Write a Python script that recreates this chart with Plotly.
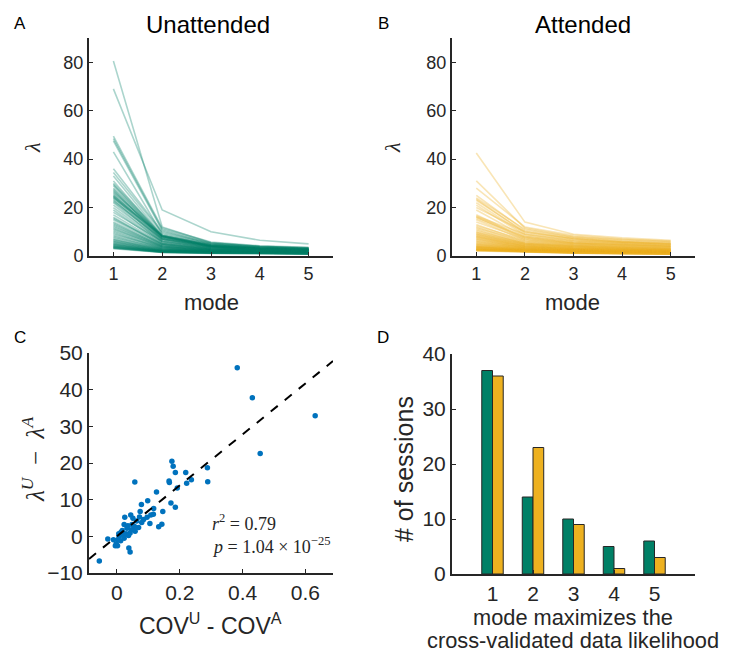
import plotly.graph_objects as go

# ---------------- data ----------------
MODES = [1, 2, 3, 4, 5]

# Panel A: eigenvalues per session (Unattended), one list per mode
U_M1 = [80.5, 69.0, 49.5, 48.5, 47.5, 43.0, 36.0, 34.5, 33.0, 31.0, 30.0, 29.5,
        29.0, 28.0, 27.5, 27.0, 26.5, 26.0, 25.5, 25.0, 24.8, 24.5, 24.2, 24.0,
        23.5, 23.0, 22.5, 22.0, 21.0, 20.0, 19.0, 18.0, 17.0, 16.0, 15.5, 15.0,
        14.0, 13.5, 13.0, 12.5, 12.0, 11.5, 11.0, 10.5, 10.0, 9.5, 9.0, 8.5,
        8.0, 7.5, 7.0, 6.8, 6.5, 6.2, 6.0, 5.8, 5.5, 5.2, 5.0, 4.8,
        4.6, 4.4, 4.2, 4.0, 3.9, 3.8, 3.6, 3.5, 3.4, 3.3, 3.2, 3.0]
U_M2 = [12.0, 19.0, 11.5, 11.0, 10.5, 9.0, 10.0, 9.5, 8.5, 8.0, 8.5, 8.0,
        7.5, 8.0, 7.0, 7.5, 8.5, 8.0, 7.0, 7.5, 8.0, 6.5, 7.0, 8.5,
        6.0, 6.5, 7.0, 5.5, 6.0, 5.5, 5.0, 6.0, 5.0, 4.5, 5.0, 4.8,
        4.5, 4.0, 4.2, 3.8, 4.0, 3.5, 3.8, 3.5, 3.2, 3.0, 3.5, 3.0,
        2.8, 3.0, 2.6, 2.5, 2.8, 2.4, 2.2, 2.5, 2.3, 2.0, 2.2, 2.0,
        1.9, 2.1, 1.8, 2.0, 1.7, 1.8, 1.6, 1.9, 1.5, 1.7, 1.6, 1.5]
U_M3 = [5.5, 10.0, 5.8, 5.5, 5.0, 4.8, 5.2, 5.0, 4.5, 4.2, 4.5, 4.0,
        4.0, 4.2, 3.8, 4.0, 4.5, 4.2, 3.8, 4.0, 4.2, 3.5, 3.8, 4.5,
        3.5, 3.6, 3.8, 3.2, 3.4, 3.2, 3.0, 3.4, 3.0, 2.8, 3.0, 2.9,
        2.8, 2.6, 2.7, 2.5, 2.6, 2.4, 2.5, 2.3, 2.2, 2.1, 2.4, 2.1,
        2.0, 2.1, 1.9, 1.8, 2.0, 1.8, 1.7, 1.8, 1.7, 1.6, 1.7, 1.5,
        1.5, 1.6, 1.4, 1.5, 1.3, 1.4, 1.3, 1.4, 1.2, 1.3, 1.2, 1.1]
U_M4 = [4.0, 6.5, 4.2, 4.0, 3.8, 3.6, 3.8, 3.7, 3.4, 3.2, 3.4, 3.1,
        3.1, 3.2, 3.0, 3.1, 3.4, 3.2, 2.9, 3.0, 3.2, 2.8, 2.9, 3.4,
        2.8, 2.8, 2.9, 2.6, 2.7, 2.6, 2.4, 2.7, 2.4, 2.3, 2.4, 2.3,
        2.3, 2.1, 2.2, 2.0, 2.1, 2.0, 2.0, 1.9, 1.8, 1.8, 2.0, 1.7,
        1.7, 1.7, 1.6, 1.5, 1.6, 1.5, 1.4, 1.5, 1.4, 1.3, 1.4, 1.3,
        1.3, 1.3, 1.2, 1.2, 1.1, 1.2, 1.1, 1.1, 1.0, 1.1, 1.0, 0.9]
U_M5 = [3.4, 5.0, 3.6, 3.4, 3.2, 3.1, 3.2, 3.1, 2.9, 2.8, 2.9, 2.7,
        2.7, 2.7, 2.6, 2.6, 2.9, 2.7, 2.5, 2.6, 2.7, 2.4, 2.5, 2.9,
        2.4, 2.4, 2.5, 2.2, 2.3, 2.2, 2.1, 2.3, 2.1, 2.0, 2.1, 2.0,
        2.0, 1.8, 1.9, 1.8, 1.8, 1.7, 1.7, 1.6, 1.6, 1.5, 1.7, 1.5,
        1.5, 1.5, 1.4, 1.3, 1.4, 1.3, 1.2, 1.3, 1.2, 1.2, 1.2, 1.1,
        1.1, 1.1, 1.0, 1.0, 1.0, 1.0, 0.9, 1.0, 0.9, 0.9, 0.8, 0.8]

# Panel B: eigenvalues per session (Attended)
A_M1 = [42.5, 31.0, 28.0, 25.0, 24.0, 23.5, 23.0, 22.0, 21.0, 20.0, 19.0, 17.0,
        16.5, 16.2, 16.0, 15.5, 15.0, 14.0, 13.0, 12.5, 12.0, 11.5, 11.0, 10.5,
        10.0, 9.8, 9.5, 9.2, 9.0, 8.8, 8.5, 8.2, 8.0, 7.8, 7.5, 7.2,
        7.0, 6.8, 6.5, 6.2, 6.0, 5.8, 5.5, 5.2, 5.0, 4.8, 4.6, 4.4,
        4.2, 4.0, 3.9, 3.8, 3.7, 3.6, 3.5, 3.4, 3.3, 3.2, 3.1, 3.0,
        2.9, 2.8, 2.8, 2.7, 2.6, 2.6, 2.5, 2.5, 2.4, 2.3, 2.2, 2.1]
A_M2 = [14.0, 11.5, 12.0, 10.5, 11.0, 9.5, 10.0, 9.0, 8.5, 10.0, 8.0, 7.5,
        9.0, 7.0, 8.0, 7.5, 6.5, 7.0, 6.0, 6.5, 5.5, 6.0, 5.0, 5.5,
        5.2, 5.0, 4.8, 4.6, 4.5, 4.4, 4.2, 4.0, 4.0, 3.9, 3.8, 3.6,
        3.5, 3.5, 3.4, 3.3, 3.2, 3.1, 3.0, 3.0, 2.9, 2.8, 2.8, 2.7,
        2.6, 2.6, 2.5, 2.5, 2.4, 2.4, 2.3, 2.3, 2.2, 2.2, 2.1, 2.1,
        2.0, 2.0, 1.9, 1.9, 1.9, 1.8, 1.8, 1.8, 1.7, 1.7, 1.6, 1.6]
A_M3 = [9.0, 8.0, 8.5, 7.5, 7.8, 7.0, 7.2, 6.5, 6.2, 7.0, 6.0, 5.5,
        6.5, 5.2, 5.8, 5.5, 5.0, 5.2, 4.6, 4.8, 4.3, 4.5, 4.0, 4.2,
        4.0, 3.8, 3.7, 3.6, 3.5, 3.4, 3.3, 3.2, 3.1, 3.0, 3.0, 2.9,
        2.8, 2.8, 2.7, 2.6, 2.6, 2.5, 2.4, 2.4, 2.3, 2.3, 2.2, 2.2,
        2.1, 2.1, 2.0, 2.0, 1.9, 1.9, 1.8, 1.8, 1.8, 1.7, 1.7, 1.6,
        1.6, 1.6, 1.5, 1.5, 1.5, 1.4, 1.4, 1.4, 1.3, 1.3, 1.2, 1.2]
A_M4 = [7.5, 6.8, 7.0, 6.2, 6.5, 5.8, 6.0, 5.5, 5.2, 5.8, 5.0, 4.6,
        5.4, 4.4, 4.8, 4.6, 4.2, 4.3, 3.9, 4.0, 3.6, 3.8, 3.4, 3.5,
        3.4, 3.2, 3.1, 3.0, 3.0, 2.9, 2.8, 2.7, 2.6, 2.6, 2.5, 2.5,
        2.4, 2.4, 2.3, 2.2, 2.2, 2.1, 2.1, 2.0, 2.0, 1.9, 1.9, 1.8,
        1.8, 1.8, 1.7, 1.7, 1.6, 1.6, 1.5, 1.5, 1.5, 1.4, 1.4, 1.4,
        1.3, 1.3, 1.3, 1.2, 1.2, 1.2, 1.1, 1.1, 1.1, 1.0, 1.0, 1.0]
A_M5 = [6.5, 6.0, 6.2, 5.5, 5.8, 5.0, 5.2, 4.8, 4.5, 5.0, 4.3, 4.0,
        4.7, 3.8, 4.1, 4.0, 3.6, 3.7, 3.3, 3.4, 3.1, 3.2, 2.9, 3.0,
        2.9, 2.7, 2.6, 2.6, 2.5, 2.5, 2.4, 2.3, 2.2, 2.2, 2.1, 2.1,
        2.0, 2.0, 1.9, 1.9, 1.8, 1.8, 1.7, 1.7, 1.6, 1.6, 1.6, 1.5,
        1.5, 1.5, 1.4, 1.4, 1.3, 1.3, 1.3, 1.2, 1.2, 1.2, 1.1, 1.1,
        1.1, 1.0, 1.0, 1.0, 0.9, 0.9, 0.9, 0.8, 0.8, 0.8, 0.7, 0.7]

# Panel C: scatter of COV difference vs lambda difference
COV_DIFF = [0.383, 0.431, 0.631, 0.456, 0.175, 0.179, 0.186, 0.219, 0.288, 0.289,
            0.166, 0.167, 0.237, 0.222, 0.192, 0.057, 0.126, 0.172, 0.186, 0.098,
            0.078, 0.117, 0.146, 0.116, 0.074, 0.096, 0.044, 0.025, 0.105, 0.143,
            0.133, 0.079, 0.063, 0.048, 0.069, 0.023, 0.032, 0.046, 0.056, 0.013,
            0.006, 0.019, 0.029, 0.037, 0.007, 0.003, 0.012, -0.029, -0.005, 0.002,
            0.038, 0.042, -0.056, 0.017, 0.035, 0.085, 0.108, -0.011, -0.002, 0.051,
            0.072, 0.023, 0.011, 0.042, 0.058]
LAMBDA_DIFF = [46.0, 37.8, 32.9, 22.6, 20.5, 19.1, 17.4, 17.4, 18.7, 14.9,
               15.1, 14.7, 15.4, 14.5, 13.2, 14.8, 12.1, 9.1, 7.9, 9.7,
               8.7, 7.6, 6.8, 6.0, 6.8, 5.2, 5.8, 5.2, 3.5, 3.3,
               2.6, 3.8, 4.2, 3.2, 2.4, 3.2, 2.2, 1.8, 2.7, 1.1,
               0.7, 0.7, 0.7, 0.2, 0.0, -0.9, -1.2, -0.7, -2.6, -2.6,
               -3.2, -4.3, -6.7, 1.6, 2.9, 4.6, 5.8, -0.9, -2.0, 4.9,
               5.3, -0.5, 0.3, 0.9, 1.4]
FIT_SLOPE = 69.5
FIT_INTERCEPT = 0.0
R2_TEXT = "<i>r</i><sup>2</sup> = 0.79"
P_TEXT = "<i>p</i> = 1.04 × 10<sup>−25</sup>"

# Panel D: number of sessions for which each mode maximizes CV likelihood
BEST_MODE_U = [37, 14, 10, 5, 6]
BEST_MODE_A = [36, 23, 9, 1, 3]

# ---------------- style ----------------
W, H = 733, 654
GREEN = "#008066"
GREEN_T = "rgba(0,128,102,0.33)"
YELLOW = "#EDB120"
YELLOW_T = "rgba(237,177,32,0.33)"
BLUE = "#0072BD"
INK = "#262626"
SANS = "Liberation Sans, Arial, sans-serif"
SERIF = "Liberation Serif, DejaVu Serif, serif"


def px(x, y):
    return x / W, 1 - y / H


def xd(a, b):
    return [a / W, b / W]


def yd(top, bottom):
    return [1 - bottom / H, 1 - top / H]


fig = go.Figure()

U_MODES = [U_M1, U_M2, U_M3, U_M4, U_M5]
A_MODES = [A_M1, A_M2, A_M3, A_M4, A_M5]

for i in range(len(U_M1)):
    fig.add_trace(go.Scatter(x=MODES, y=[m[i] for m in U_MODES], mode="lines",
                             line=dict(color=GREEN_T, width=1.6),
                             xaxis="x", yaxis="y", showlegend=False, hoverinfo="skip"))
for i in range(len(A_M1)):
    fig.add_trace(go.Scatter(x=MODES, y=[m[i] for m in A_MODES], mode="lines",
                             line=dict(color=YELLOW_T, width=1.6),
                             xaxis="x2", yaxis="y2", showlegend=False, hoverinfo="skip"))

C_XRANGE = [-0.0888, 0.6877]
fig.add_trace(go.Scatter(x=COV_DIFF, y=LAMBDA_DIFF, mode="markers",
                         marker=dict(color=BLUE, size=5.5),
                         xaxis="x3", yaxis="y3", showlegend=False))
fig.add_trace(go.Scatter(x=C_XRANGE,
                         y=[FIT_SLOPE * v + FIT_INTERCEPT for v in C_XRANGE],
                         mode="lines", line=dict(color="black", width=2, dash="dash"),
                         xaxis="x3", yaxis="y3", showlegend=False))

fig.add_trace(go.Bar(x=MODES, y=BEST_MODE_U, marker=dict(color=GREEN, line=dict(color=INK, width=1)),
                     xaxis="x4", yaxis="y4", showlegend=False))
fig.add_trace(go.Bar(x=MODES, y=BEST_MODE_A, marker=dict(color=YELLOW, line=dict(color=INK, width=1)),
                     xaxis="x4", yaxis="y4", showlegend=False))


def axis(size, **kw):
    d = dict(showline=True, linecolor=INK, linewidth=2, ticks="inside", ticklen=4,
             tickwidth=1, tickcolor=INK, showgrid=False, zeroline=False,
             tickfont=dict(family=SANS, size=size, color=INK), mirror=False,
             automargin=False, fixedrange=True)
    d.update(kw)
    return d


fig.update_layout(
    width=W, height=H,
    margin=dict(l=0, r=0, t=0, b=0, pad=0, autoexpand=False),
    paper_bgcolor="white", plot_bgcolor="white", showlegend=False,
    barmode="group", bargap=0.47, bargroupgap=0.0,
    xaxis=axis(18, domain=xd(89, 333), range=[0.5, 5.5], tickvals=MODES, anchor="y"),
    yaxis=axis(18, domain=yd(38, 256), range=[0, 90], tickvals=[0, 20, 40, 60, 80], anchor="x"),
    xaxis2=axis(18, domain=xd(452, 695), range=[0.5, 5.5], tickvals=MODES, anchor="y2"),
    yaxis2=axis(18, domain=yd(38, 256), range=[0, 90], tickvals=[0, 20, 40, 60, 80], anchor="x2"),
    xaxis3=axis(21, domain=xd(89, 333), range=C_XRANGE, tickvals=[0, 0.2, 0.4, 0.6],
                ticktext=["0", "0.2", "0.4", "0.6"], anchor="y3"),
    yaxis3=axis(21, domain=yd(353, 573), range=[-10, 50], tickvals=[-10, 0, 10, 20, 30, 40, 50],
                anchor="x3"),
    xaxis4=axis(21, domain=xd(452, 695), range=[0, 6], tickvals=MODES, anchor="y4"),
    yaxis4=axis(21, domain=yd(354, 574), range=[0, 40], tickvals=[0, 10, 20, 30, 40], anchor="x4"),
)

ann = []


def add_text(text, x, y, size, family=SANS, angle=0, xanchor="center", yanchor="middle", color=INK):
    xp, yp = px(x, y)
    ann.append(dict(text=text, x=xp, y=yp, xref="paper", yref="paper", showarrow=False,
                    xanchor=xanchor, yanchor=yanchor, textangle=angle, borderpad=0,
                    font=dict(family=family, size=size, color=color)))


# panel letters
add_text("A", 20, 23, 17, color="black")
add_text("B", 383, 23, 17, color="black")
add_text("C", 20, 337, 17, color="black")
add_text("D", 383, 337, 17, color="black")
# titles
add_text("Unattended", 208, 25, 24, color="black")
add_text("Attended", 583, 25, 24, color="black")
# axis titles
add_text("<i>λ</i>", 32, 148, 22, family=SERIF, angle=-90)
add_text("<i>λ</i>", 392, 148, 22, family=SERIF, angle=-90)
add_text("mode", 211, 302, 22)
add_text("mode", 572, 302, 22)
add_text("<i>λ</i><sup><i>U</i></sup>\u2002−\u2002<i>λ</i><sup><i>A</i></sup>", 33, 460, 25,
         family=SERIF, angle=-90)
add_text("COV<sup>U</sup> - COV<sup>A</sup>", 210, 624, 23)
add_text("# of sessions", 404, 469, 25, angle=-90)
add_text("mode maximizes the", 573, 604, 21.8, yanchor="top")
add_text("cross-validated data likelihood", 573, 654, 21.8, yanchor="bottom")
# stats text
add_text(R2_TEXT, 211, 522, 18, family=SERIF, xanchor="left")
add_text(P_TEXT, 211, 545, 18, family=SERIF, xanchor="left")

fig.update_layout(annotations=ann)

fig.write_html("out.html", config={"displayModeBar": False, "staticPlot": True},
               post_script="document.body.style.margin='0';document.body.style.overflow='hidden';")
